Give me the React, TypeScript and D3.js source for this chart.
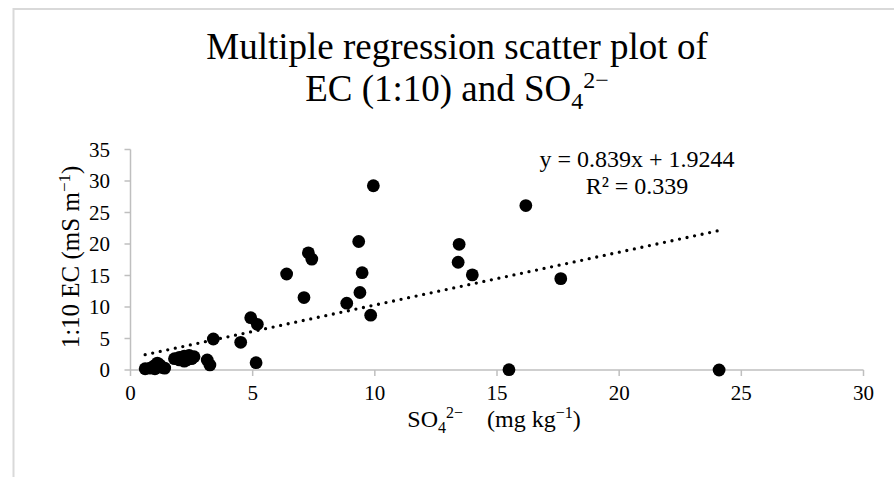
import React from "react";
import * as d3 from "d3";

const xValues = [
  0.6, 0.8, 0.95, 1.1, 1.2, 1.3, 1.4, 1.0,
  1.8, 2.0, 2.2, 2.3, 2.4, 2.5, 2.6, 2.2, 2.0,
  3.14, 3.25, 3.39, 4.51, 4.92, 5.19, 5.14,
  6.39, 7.1, 7.28, 7.42, 8.85, 9.34, 9.39, 9.48, 9.83, 9.94,
  13.41, 13.45, 13.99, 15.49, 16.18, 17.61, 24.09,
];
const yValues = [
  0.2, 0.3, 0.6, 1.1, 0.8, 0.4, 0.3, 0.2,
  1.8, 2.0, 2.2, 1.6, 2.3, 1.8, 2.1, 1.4, 1.6,
  1.59, 0.8, 4.92, 4.4, 8.3, 7.25, 1.16,
  15.24, 11.5, 18.6, 17.6, 10.6, 20.4, 12.3, 15.45, 8.7, 29.25,
  17.1, 19.95, 15.1, 0.05, 26.1, 14.5, 0.0,
];
const xTicks = [0, 5, 10, 15, 20, 25, 30];
const yTicks = [0, 5, 10, 15, 20, 25, 30, 35];
const slope = 0.839;
const intercept = 1.9244;
const equationText = "y = 0.839x + 1.9244";
const r2Text = "R² = 0.339";

export default function App() {
  const x = d3.scaleLinear().domain([0, 30]).range([130.5, 863.5]);
  const y = d3.scaleLinear().domain([0, 35]).range([370, 149.5]);
  const xMin = d3.min(xValues) as number;
  const xMax = d3.max(xValues) as number;
  const trend = d3
    .line<number>()
    .x((d) => x(d))
    .y((d) => y(slope * d + intercept))([xMin, xMax]) as string;
  const axisColor = "#bfbfbf";
  const font = "'Liberation Serif', 'Times New Roman', serif";
  const points = xValues.map((v, i) => [v, yValues[i]]);
  return (
    <svg
      width={894}
      height={477}
      style={{ position: "absolute", left: 0, top: 0, background: "#fff" }}
      fontFamily={font}
    >
      <rect x={0} y={0} width={894} height={477} fill="#fff" />
      <rect x={13.5} y={9} width={1000} height={1000} fill="none" stroke="#d9d9d9" strokeWidth={2} />
      {/* title */}
      <text x={457} textAnchor="middle" fontSize={37} fill="#000">
        <tspan x={457} y={59}>Multiple regression scatter plot of</tspan>
        <tspan x={457} y={101}>EC (1:10) and SO</tspan>
        <tspan fontSize={24} dy={8}>4</tspan>
        <tspan fontSize={24} dy={-21}>2−</tspan>
      </text>
      {/* axes */}
      <line x1={x(0)} x2={x(30)} y1={y(0)} y2={y(0)} stroke={axisColor} strokeWidth={1.5} />
      <line x1={x(0)} x2={x(0)} y1={y(0)} y2={y(35)} stroke={axisColor} strokeWidth={1.5} />
      {xTicks.map((t) => (
        <g key={"xt" + t}>
          <line x1={x(t)} x2={x(t)} y1={y(0)} y2={y(0) + 6} stroke={axisColor} strokeWidth={1.5} />
          <text x={x(t)} y={400} textAnchor="middle" fontSize={21} fill="#000">
            {t}
          </text>
        </g>
      ))}
      {yTicks.map((t) => (
        <g key={"yt" + t}>
          <line x1={x(0) - 6} x2={x(0)} y1={y(t)} y2={y(t)} stroke={axisColor} strokeWidth={1.5} />
          <text x={110} y={y(t) + 7} textAnchor="end" fontSize={21} fill="#000">
            {t}
          </text>
        </g>
      ))}
      {/* axis titles */}
      <text x={494} y={427} textAnchor="middle" fontSize={24} fill="#000">
        SO<tspan fontSize={16} dy={6}>4</tspan>
        <tspan fontSize={16} dy={-15}>2−</tspan>
        <tspan fontSize={24} dy={9} xmlSpace="preserve">{"\u00a0\u00a0\u00a0\u00a0(mg kg"}</tspan>
        <tspan fontSize={16} dy={-9}>−1</tspan>
        <tspan fontSize={24} dy={9}>)</tspan>
      </text>
      <text
        transform={`translate(79, 257) rotate(-90)`}
        textAnchor="middle"
        fontSize={25}
        fill="#000"
      >
        1:10 EC (mS m<tspan fontSize={17} dy={-9}>−1</tspan>
        <tspan fontSize={25} dy={9}>)</tspan>
      </text>
      {/* trendline */}
      <path
        d={trend}
        fill="none"
        stroke="#000"
        strokeWidth={3.3}
        strokeLinecap="round"
        strokeDasharray="0 7.7"
      />
      {/* points */}
      {points.map(([a, b], i) => (
        <circle key={i} cx={x(a)} cy={y(b)} r={6.4} fill="#000" />
      ))}
      {/* equation */}
      <text x={637} y={167} textAnchor="middle" fontSize={24} fill="#000">
        {equationText}
      </text>
      <text x={637} y={194} textAnchor="middle" fontSize={24} fill="#000">
        {r2Text}
      </text>
    </svg>
  );
}
